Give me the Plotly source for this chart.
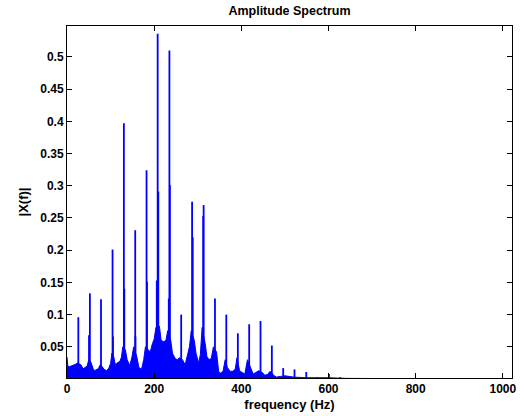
import plotly.graph_objects as go

# ---- data ----
# harmonic peaks (Hz, |X(f)|)
harm_freq = [26, 52.5, 78, 104.5, 130.5, 156.5, 182.5, 208, 235, 262, 287, 313.5,
             339.5, 365.5, 392, 418, 444, 470, 496, 522, 549, 574, 601, 627]
harm_amp = [0.096, 0.133, 0.124, 0.201, 0.397, 0.231, 0.324, 0.536, 0.510, 0.100, 0.275, 0.270,
            0.125, 0.100, 0.071, 0.085, 0.090, 0.052, 0.017, 0.015, 0.011, 0.003, 0.008, 0.003]

# secondary spikes next to the main peaks
side_freq = [50.5, 105.5, 131.5, 157, 183.5, 206, 209.5, 233.5, 236, 288.5, 312.5]
side_amp = [0.068, 0.066, 0.140, 0.066, 0.151, 0.153, 0.291, 0.125, 0.301, 0.220, 0.253]

# envelope of the dense noise floor
floor_freq = [0, 2, 5, 10, 15, 20, 24, 28, 32, 37,
              42, 46, 50, 55, 60, 64, 68, 72, 76, 80,
              85, 91, 96, 100, 103, 107, 111, 117, 121, 125,
              128, 134, 138, 144, 149, 153, 160, 165, 171, 176,
              180, 186, 191, 196, 200, 204, 212, 216, 222, 227,
              231, 238, 242, 248, 253, 258, 265, 271, 276, 281,
              285, 292, 296, 302, 306, 310, 317, 321, 326, 331,
              336, 343, 348, 352, 358, 363, 368, 374, 380, 386,
              390, 396, 402, 408, 414, 421, 427, 433, 440, 448,
              454, 460, 466, 474, 480, 490, 500, 520, 550, 600,
              640, 700, 1021]
floor_amp = [0.034, 0.020, 0.019, 0.020, 0.021, 0.023, 0.025, 0.024, 0.022, 0.016,
             0.018, 0.020, 0.030, 0.026, 0.016, 0.013, 0.015, 0.016, 0.022, 0.020,
             0.015, 0.013, 0.017, 0.024, 0.040, 0.035, 0.022, 0.026, 0.027, 0.034,
             0.050, 0.045, 0.030, 0.021, 0.034, 0.050, 0.035, 0.018, 0.015, 0.030,
             0.050, 0.045, 0.042, 0.055, 0.062, 0.080, 0.082, 0.060, 0.058, 0.060,
             0.075, 0.060, 0.040, 0.032, 0.030, 0.033, 0.030, 0.022, 0.035, 0.050,
             0.075, 0.060, 0.040, 0.025, 0.038, 0.080, 0.055, 0.035, 0.030, 0.032,
             0.050, 0.042, 0.012, 0.009, 0.012, 0.030, 0.018, 0.012, 0.012, 0.015,
             0.033, 0.013, 0.010, 0.008, 0.030, 0.018, 0.008, 0.010, 0.013, 0.010,
             0.006, 0.007, 0.012, 0.006, 0.003, 0.004, 0.005, 0.003, 0.002, 0.002,
             0.001, 0.0008, 0.0005]

x_ticks = [0, 200, 400, 600, 800, 1000]
y_ticks = [0.05, 0.1, 0.15, 0.2, 0.25, 0.3, 0.35, 0.4, 0.45, 0.5]
y_tick_text = ["0.05", "0.1", "0.15", "0.2", "0.25", "0.3", "0.35", "0.4", "0.45", "0.5"]

BLUE = "#0000FF"
FONT = "Liberation Sans, Arial, Helvetica, sans-serif"

# spikes as vertical segments
sx, sy = [], []
for f, a in list(zip(harm_freq, harm_amp)) + list(zip(side_freq, side_amp)):
    sx += [f, f, None]
    sy += [0, a, None]

fig = go.Figure()
fig.add_trace(go.Scatter(x=floor_freq, y=floor_amp, mode="lines", fill="tozeroy",
                         fillcolor=BLUE, line=dict(color=BLUE, width=1),
                         hoverinfo="skip", showlegend=False))
fig.add_trace(go.Scatter(x=sx, y=sy, mode="lines", line=dict(color=BLUE, width=1.8),
                         showlegend=False))

axis_common = dict(showline=True, linecolor="black", linewidth=1, mirror="ticks",
                   ticks="inside", ticklen=5, tickcolor="black", showgrid=False,
                   zeroline=False, automargin=False,
                   tickfont=dict(family=FONT, size=12, color="black", weight="bold"))

fig.update_xaxes(range=[0, 1021], tickvals=x_ticks, ticktext=[str(v) for v in x_ticks],
                 title=dict(text="frequency (Hz)", standoff=4,
                            font=dict(family=FONT, size=13, color="black", weight="bold")),
                 **axis_common)
fig.update_yaxes(range=[0.0016, 0.548], tickvals=y_ticks, ticktext=y_tick_text,
                 title=dict(text="|X(f)|", standoff=8,
                            font=dict(family=FONT, size=13, color="black", weight="bold")),
                 **axis_common)

fig.update_layout(
    width=524, height=416,
    margin=dict(l=67, r=12, t=26, b=38, autoexpand=False),
    paper_bgcolor="white", plot_bgcolor="white",
    title=dict(text="Amplitude Spectrum", x=(67 + 512) / 2 / 524, xanchor="center",
               y=1 - 11 / 416, yanchor="middle", automargin=False,
               font=dict(family=FONT, size=12.5, color="black", weight="bold")),
)

fig.write_html("out.html", config={"displayModeBar": False},
               post_script="document.body.style.margin='0';document.body.style.padding='0';")
